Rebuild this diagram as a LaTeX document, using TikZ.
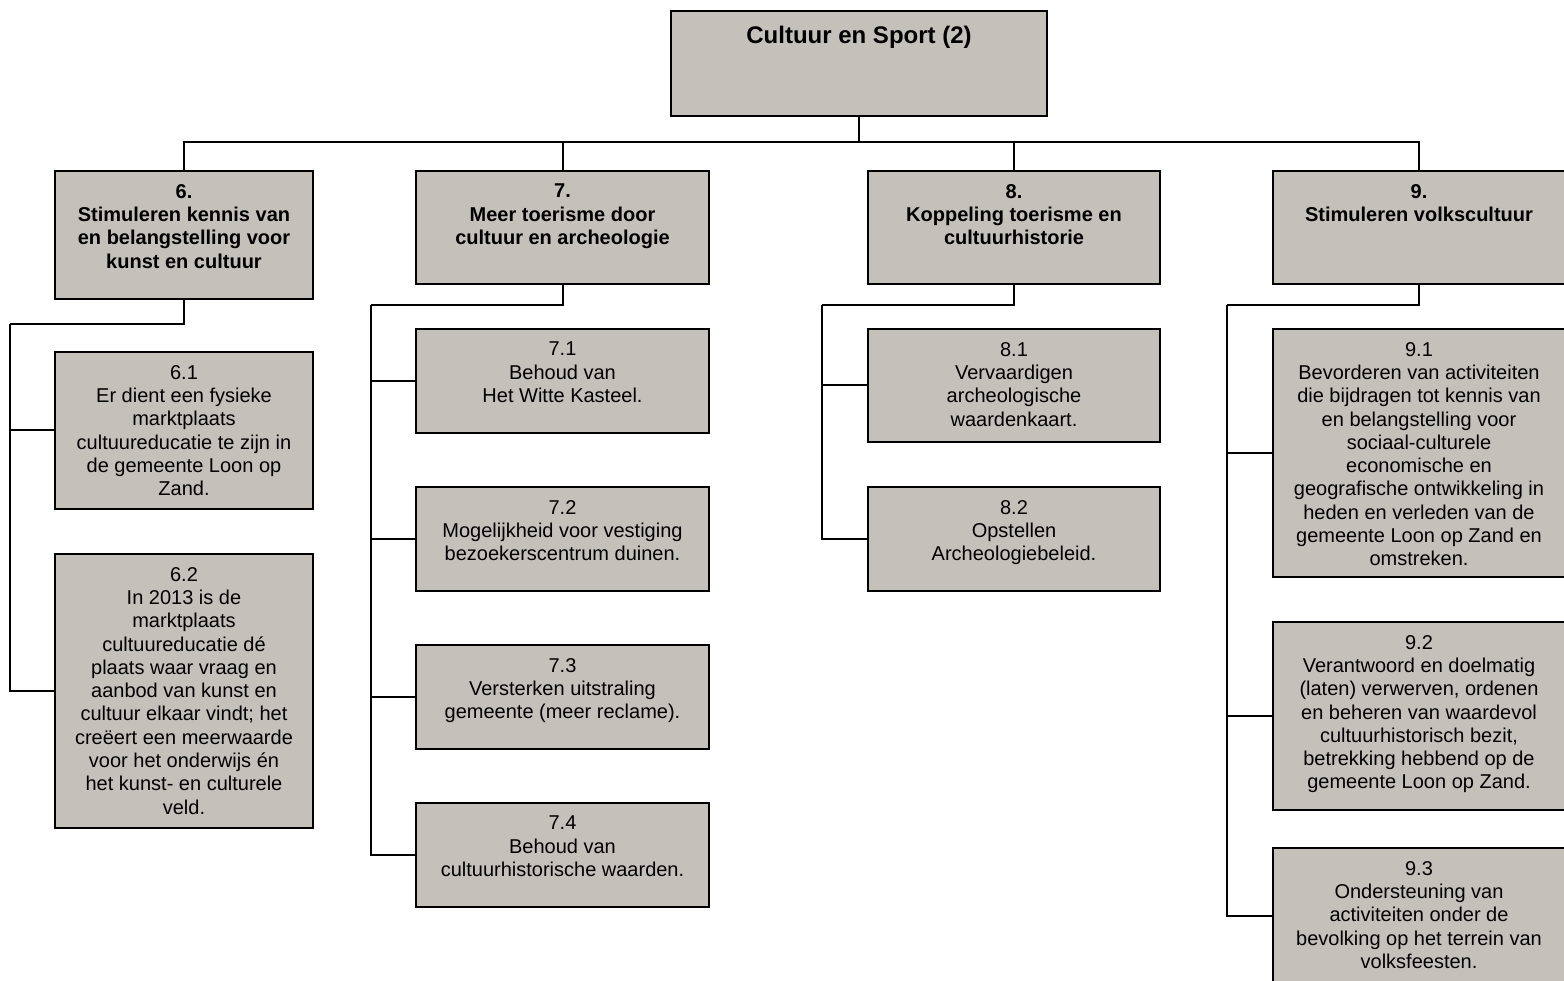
\documentclass[tikz,border=0pt]{standalone}
\usepackage{fontspec}
\setmainfont{Liberation Sans}
\definecolor{boxfill}{RGB}{196,193,186}
\tikzset{
  orgbox/.style={draw=black, line width=2pt, fill=boxfill, inner sep=0pt, anchor=north west},
  orgtxt/.style={align=center, inner sep=0pt, anchor=north, font=\fontsize{20}{23.3}\selectfont},
  conn/.style={draw=black, line width=2pt}
}
\newcommand\mybox[6]{%
  \node[orgbox, minimum width={#4-#2}, minimum height={#5-#3}] (#1) at (#2,-#3) {};
  \node[orgtxt] (#1t) at ([yshift=-14pt]#1.north) {#6};
}
\begin{document}
\begin{tikzpicture}[x=1pt,y=1pt]
\useasboundingbox (0,0) rectangle (1564,-981);
\fill[white] (0,0) rectangle (1564,-981);
% top
\node[orgbox, minimum width=376, minimum height=105] (top) at (670,-10) {};
\node[orgtxt, font=\bfseries\fontsize{24}{27}\selectfont] (topt) at ([yshift=-15.5pt]top.north) {Cultuur en Sport (2)};
% level 1
\mybox{n6}{54}{170}{312}{298}{\bfseries 6.\\\bfseries Stimuleren kennis van\\\bfseries en belangstelling voor\\\bfseries kunst en cultuur}
\mybox{n7}{415}{170}{708}{283}{\bfseries 7.\\\bfseries Meer toerisme door\\\bfseries cultuur en archeologie}
\mybox{n8}{867}{170}{1159}{283}{\bfseries 8.\\\bfseries Koppeling toerisme en\\\bfseries cultuurhistorie}
\mybox{n9}{1272}{170}{1564}{283}{\bfseries 9.\\\bfseries Stimuleren volkscultuur}
% level 2
\mybox{n61}{54}{351}{312}{508}{6.1\\Er dient een fysieke\\marktplaats\\cultuureducatie te zijn in\\de gemeente Loon op\\Zand.}
\mybox{n62}{54}{553}{312}{827}{6.2\\In 2013 is de\\marktplaats\\cultuureducatie dé\\plaats waar vraag en\\aanbod van kunst en\\cultuur elkaar vindt; het\\creëert een meerwaarde\\voor het onderwijs én\\het kunst- en culturele\\veld.}
\mybox{n71}{415}{328}{708}{432}{7.1\\Behoud van\\Het Witte Kasteel.}
\mybox{n72}{415}{486}{708}{590}{7.2\\Mogelijkheid voor vestiging\\bezoekerscentrum duinen.}
\mybox{n73}{415}{644}{708}{748}{7.3\\Versterken uitstraling\\gemeente (meer reclame).}
\mybox{n74}{415}{802}{708}{906}{7.4\\Behoud van\\cultuurhistorische waarden.}
\mybox{n81}{867}{328}{1159}{441}{8.1\\Vervaardigen\\archeologische\\waardenkaart.}
\mybox{n82}{867}{486}{1159}{590}{8.2\\Opstellen\\Archeologiebeleid.}
\mybox{n91}{1272}{328}{1564}{576}{9.1\\Bevorderen van activiteiten\\die bijdragen tot kennis van\\en belangstelling voor\\sociaal-culturele\\economische en\\geografische ontwikkeling in\\heden en verleden van de\\gemeente Loon op Zand en\\omstreken.}
\mybox{n92}{1272}{621}{1564}{809}{9.2\\Verantwoord en doelmatig\\(laten) verwerven, ordenen\\en beheren van waardevol\\cultuurhistorisch bezit,\\betrekking hebbend op de\\gemeente Loon op Zand.}
\mybox{n93}{1272}{847}{1564}{982}{9.3\\Ondersteuning van\\activiteiten onder de\\bevolking op het terrein van\\volksfeesten.}
% connectors top level
\coordinate (bus) at (858,-142);
\draw[conn] (top.south) -- (top.south |- bus);
\draw[conn] (n6.north) |- (bus);
\draw[conn] (bus) -| (n9.north);
\draw[conn] (bus -| n7.north) -- (n7.north);
\draw[conn] (bus -| n8.north) -- (n8.north);
% group 6
\coordinate (s6) at (10,-324);
\draw[conn] (n6.south) |- (s6);
\draw[conn] (s6) |- (n62.west);
\draw[conn] (s6 |- n61.west) -- (n61.west);
% group 7
\coordinate (s7) at (371,-305);
\draw[conn] (n7.south) |- (s7);
\draw[conn] (s7) |- (n74.west);
\draw[conn] (s7 |- n71.west) -- (n71.west);
\draw[conn] (s7 |- n72.west) -- (n72.west);
\draw[conn] (s7 |- n73.west) -- (n73.west);
% group 8
\coordinate (s8) at (822,-305);
\draw[conn] (n8.south) |- (s8);
\draw[conn] (s8) |- (n82.west);
\draw[conn] (s8 |- n81.west) -- (n81.west);
% group 9
\coordinate (s9) at (1227,-305);
\draw[conn] (n9.south) |- (s9);
\draw[conn] (s9) |- (n93.west);
\draw[conn] (s9 |- n91.west) -- (n91.west);
\draw[conn] (s9 |- n92.west) -- (n92.west);
\end{tikzpicture}
\end{document}
